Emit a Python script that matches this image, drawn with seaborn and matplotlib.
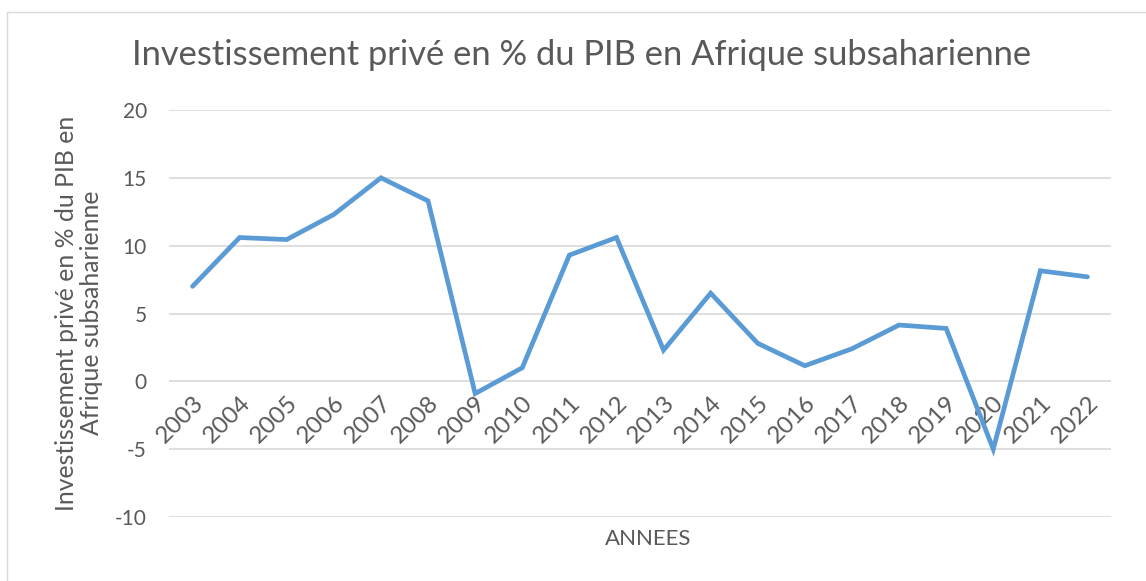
import matplotlib
matplotlib.use("Agg")
import matplotlib.pyplot as plt
import seaborn as sns
import pandas as pd
from matplotlib.patches import Rectangle

years = ["2003", "2004", "2005", "2006", "2007", "2008", "2009", "2010", "2011", "2012",
         "2013", "2014", "2015", "2016", "2017", "2018", "2019", "2020", "2021", "2022"]
values = [7.0, 10.6, 10.45, 12.3, 15.0, 13.3, -0.9, 1.0, 9.3, 10.6,
          2.3, 6.5, 2.8, 1.15, 2.4, 4.15, 3.9, -5.0, 8.15, 7.7]
yticks = [-10, -5, 0, 5, 10, 15, 20]

title = "Investissement privé en % du PIB en Afrique subsaharienne"
ylabel = "Investissement privé en % du PIB en\nAfrique subsaharienne"
xlabel = "ANNEES"

sns.set_theme(style="white")
plt.rcParams["font.family"] = ["Lato", "DejaVu Sans"]

TXT = "#595959"
GRID = "#D9D9D9"
LINE = "#5B9BD5"

df = pd.DataFrame({"annee": years, "valeur": values})
df["pos"] = range(len(years))

W, H = 1146, 581
fig = plt.figure(figsize=(W / 100, H / 100), dpi=100)
fig.patch.set_facecolor("white")
fig.patches.append(Rectangle((7 / W, -0.1), 1.2, 1 - 12 / H + 0.1, transform=fig.transFigure,
                             fill=False, edgecolor="#D9D9D9", linewidth=1.0))

left, right, top, bottom = 169 / W, 1111 / W, 110 / H, 517 / H
ax = fig.add_axes([left, 1 - bottom, right - left, bottom - top])

for t in yticks:
    ax.axhline(t, color=GRID, linewidth=1.2, zorder=0)

sns.lineplot(data=df, x="pos", y="valeur", ax=ax, color=LINE, linewidth=3.4,
             solid_capstyle="round", solid_joinstyle="miter", zorder=3, legend=False)

ax.set_xlim(-0.5, len(years) - 0.5)
ax.set_ylim(-10, 20)
ax.set_yticks(yticks)
ax.set_yticklabels([str(t) for t in yticks], fontsize=15, color=TXT)
ax.tick_params(axis="y", length=0, pad=16)

ax.spines["bottom"].set_position(("data", 0))
for s in ax.spines.values():
    s.set_visible(False)
ax.set_xticks(range(len(years)))
ax.set_xticklabels(years, rotation=45, ha="right", rotation_mode="anchor",
                   fontsize=17.5, color=TXT)
ax.tick_params(axis="x", length=0, pad=8)
for lab in ax.get_xticklabels():
    lab.set_zorder(1)

ax.set_xlabel("")
ax.set_ylabel("")

fig.text(582 / W, 1 - 55 / H, title, ha="center", va="center", fontsize=24.8, color=TXT)
fig.text(79 / W, 1 - 313 / H, ylabel, ha="center", va="center", rotation=90,
         fontsize=17.8, color=TXT, linespacing=1.15, multialignment="center")
fig.text(648 / W, 1 - 539 / H, xlabel, ha="center", va="center", fontsize=16, color=TXT)

fig.savefig("out.png", dpi=100, facecolor="white")
